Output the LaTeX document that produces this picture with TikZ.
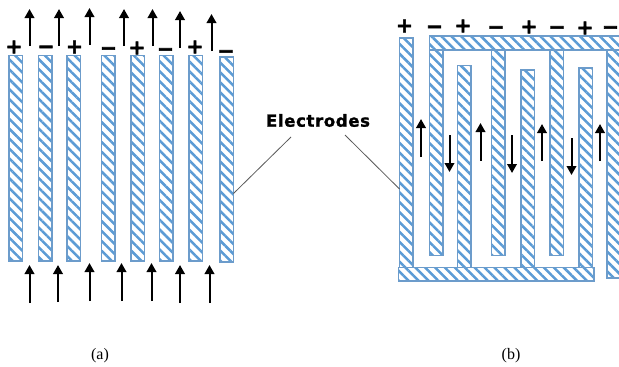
\documentclass[tikz,border=0pt]{standalone}
\usepackage{fontspec}
\usetikzlibrary{patterns.meta,arrows.meta}
\newfontfamily\dvbsign[FakeBold=3]{DejaVu Sans Bold}
\newfontfamily\dvblabel[FakeBold=1.5,LetterSpace=4]{DejaVu Sans Bold}
\setmainfont{Liberation Serif}
\definecolor{elblue}{HTML}{5B9BD5}
\definecolor{elborder}{HTML}{6C9CCB}
\tikzset{
  x=1pt,y=-1pt,
  elec/.style={draw=elborder,line width=1.1pt,inner sep=0pt,outer sep=0pt,anchor=north west,
    pattern={Lines[angle=-45,distance=7pt,line width=2.5pt]},pattern color=elblue},
  arrowline/.style={draw=black,line width=2pt,-{Triangle[length=9pt,width=9.5pt]}},
  sign/.style={inner sep=0pt,font=\dvbsign\fontsize{20}{20}\selectfont},
  signminus/.style={sign,yshift=-2pt},
  leader/.style={draw=black!65,line width=0.8pt},
  caption/.style={inner sep=0pt,font=\fontsize{16}{18}\selectfont}
}
\newcommand{\elecbox}[5]{\node[elec,minimum width=#4pt,minimum height=#5pt] (#1) at (#2,#3) {};}
\newcommand{\flow}[4]{\coordinate (#1s) at (#2,#3);\coordinate (#1t) at (#2,#4);\draw[arrowline] (#1s) -- (#1t);}
\begin{document}
\begin{tikzpicture}
\useasboundingbox (0,0) rectangle (619,367);
% (a) electrodes
\elecbox{a1}{9}{55.5}{13.5}{205.5}
\elecbox{a2}{38.5}{55.5}{13.5}{205.5}
\elecbox{a3}{67}{55.5}{13.5}{205.5}
\elecbox{a4}{101.5}{55.5}{13.5}{205.5}
\elecbox{a5}{131}{55.5}{13.5}{205.5}
\elecbox{a6}{159.5}{55.5}{13.5}{205.5}
\elecbox{a7}{189}{55.5}{13.5}{205.5}
\elecbox{a8}{220}{57}{13.5}{205}
% (a) arrows
\flow{at1}{29.5}{46}{9}
\flow{at2}{59}{46}{9}
\flow{at3}{89.5}{45}{8}
\flow{at4}{124}{46}{9}
\flow{at5}{152.5}{46}{9}
\flow{at6}{180}{48}{11}
\flow{at7}{211.5}{51}{14}
\flow{ab1}{29.5}{303}{265}
\flow{ab2}{58}{302}{265}
\flow{ab3}{89.5}{301}{263}
\flow{ab4}{121.5}{301}{263}
\flow{ab5}{151.5}{301}{263}
\flow{ab6}{180}{303}{265}
\flow{ab7}{209.5}{303}{265}
% (a) signs
\node[sign] (as1) at (14,47) {+};
\node[signminus] (as2) at (46,47.5) {−};
\node[sign] (as3) at (74.5,47) {+};
\node[signminus] (as4) at (108.5,49) {−};
\node[sign] (as5) at (137,48) {+};
\node[signminus] (as6) at (165.5,50) {−};
\node[sign] (as7) at (195,47) {+};
\node[signminus] (as8) at (226,52) {−};
% (b) comb fingers
\elecbox{b1}{399.5}{38}{13.5}{229.5}
\elecbox{t1}{429.5}{50}{13.5}{205.5}
\elecbox{t2}{491.5}{50}{13.5}{205.5}
\elecbox{t3}{550}{50}{13.5}{205.5}
\elecbox{t4}{607}{50}{13}{228}
\elecbox{u1}{457.5}{65.5}{13.5}{202}
\elecbox{u2}{521}{70}{13.5}{197.5}
\elecbox{u3}{579}{68}{13.5}{199.5}
\elecbox{tbar}{429.5}{36}{190}{14}
\elecbox{bbar}{398.5}{267.5}{195.5}{13.5}
% (b) arrows
\flow{bu1}{421}{157}{119}
\flow{bu2}{480.5}{160.5}{123}
\flow{bu3}{542}{161}{124}
\flow{bu4}{600}{161}{124}
\flow{bd1}{449.5}{135}{172}
\flow{bd2}{512}{135}{173}
\flow{bd3}{571.5}{138}{175}
% (b) signs
\node[sign] (bs1) at (404.5,26) {+};
\node[signminus] (bs2) at (434.5,27.5) {−};
\node[sign] (bs3) at (463,26) {+};
\node[signminus] (bs4) at (496,28) {−};
\node[sign] (bs5) at (529,27) {+};
\node[signminus] (bs6) at (557,28) {−};
\node[sign] (bs7) at (585,28) {+};
\node[signminus] (bs8) at (610.5,28) {−};
% label and leaders
\node[inner sep=0pt,font=\dvblabel\fontsize{16.5}{18}\selectfont] (lab) at (318,120.5) {Electrodes};
\coordinate (ll1) at (291,137);
\coordinate (ll2) at (233.5,193.5);
\coordinate (lr1) at (345,135);
\coordinate (lr2) at (399.5,189);
\draw[leader] (ll1) -- (ll2);
\draw[leader] (lr1) -- (lr2);
\node[caption] (capa) at (100,356) {(a)};
\node[caption] (capb) at (511,356) {(b)};
\end{tikzpicture}
\end{document}
